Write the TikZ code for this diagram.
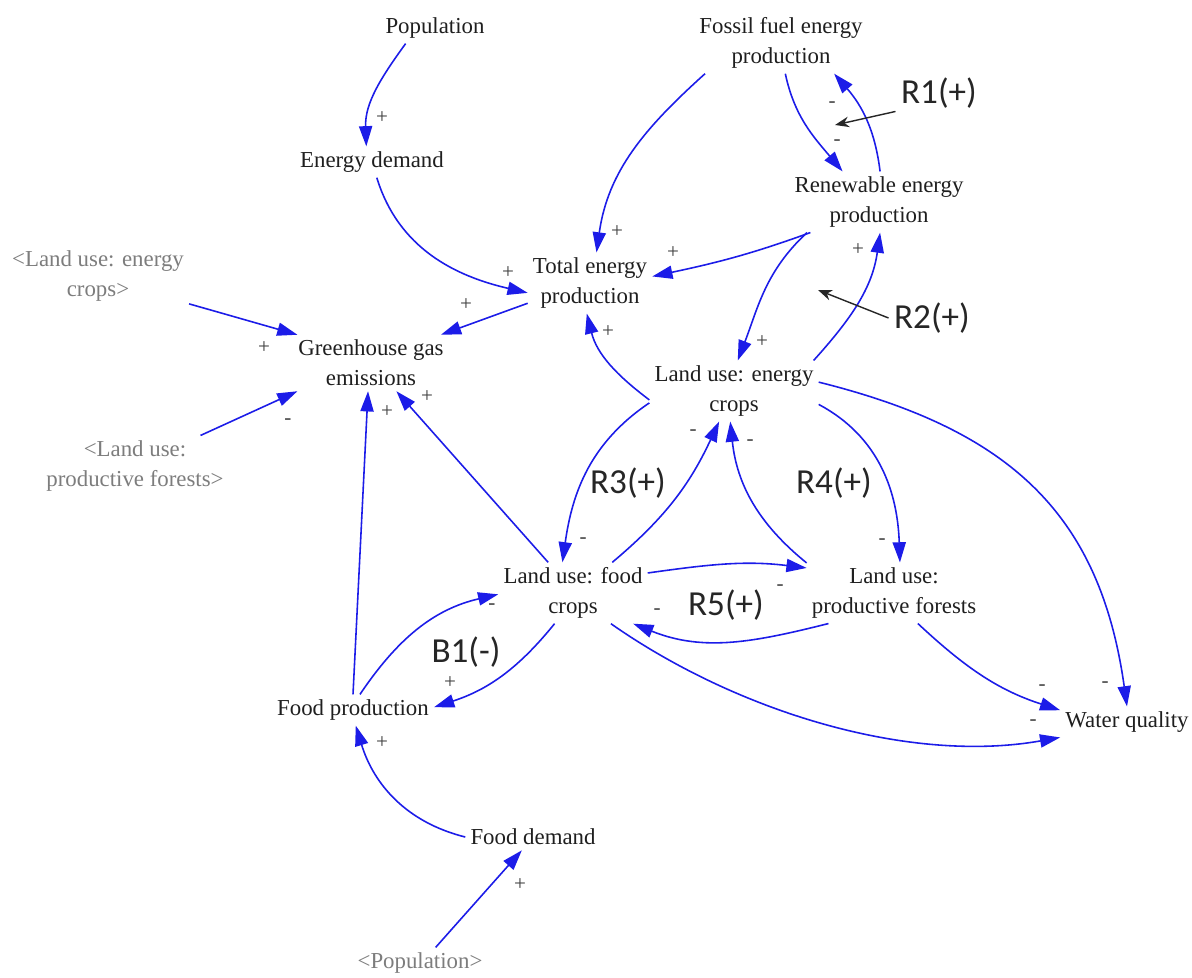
\documentclass[tikz,border=0pt]{standalone}
\usepackage{fontspec}
\setmainfont{Liberation Serif}
\newfontfamily\loopfont{Carlito}
\usetikzlibrary{arrows.meta}
\definecolor{linkblue}{RGB}{28,28,232}
\definecolor{shadowgray}{RGB}{125,125,125}
\tikzset{
  var/.style={font=\fontsize{13}{17}\selectfont, text=black!88, align=center, inner sep=2.8pt},
  shadowvar/.style={var, text=shadowgray},
  link/.style={draw=linkblue, line width=0.9pt, -{Triangle[length=11.5pt,width=7.5pt]}},
  sign/.style={font=\fontsize{12}{12}\selectfont, text=black!75, inner sep=0pt},
  looplabel/.style={font=\loopfont\fontsize{20}{22}\selectfont, text=black!85, inner sep=3pt},
  pointer/.style={draw=black!85, line width=0.8pt, -{Stealth[length=8pt,width=6pt]}},
}
\begin{document}
\begin{tikzpicture}[x=0.02cm, y=0.02cm]
  \fill[white] (0,0) rectangle (1192,-977);
  \useasboundingbox (0,0) rectangle (1192,-977);

  % variables
  \node[var] (pop)  at (435,-28)  {Population};
  \node[var] (ed)   at (372,-162) {Energy demand};
  \node[var] (tep)  at (590,-283) {Total energy\\production};
  \node[var] (ffp)  at (781,-43)  {Fossil fuel energy\\production};
  \node[var] (rep)  at (879,-202) {Renewable energy\\production};
  \node[var] (ghg)  at (371,-363) {Greenhouse gas\\emissions};
  \node[var] (lue)  at (734,-391) {Land use: energy\\crops};
  \node[var] (luf)  at (573,-593) {Land use: food\\crops};
  \node[var] (lupf) at (894,-593) {Land use:\\productive forests};
  \node[var] (fp)   at (353,-710) {Food production};
  \node[var] (fd)   at (533,-837) {Food demand};
  \node[var] (wq)   at (1127,-722) {Water quality};

  % shadow variables
  \node[shadowvar] (luep)  at (98,-276)  {<Land use: energy\\crops>};
  \node[shadowvar] (lupf2) at (135,-466) {<Land use:\\productive forests>};
  \node[shadowvar] (popS)  at (420,-963) {<Population>};

  % causal links
  \draw[link] (pop.208) to[out=234,in=92] (ed.110);
  \draw[link] (ed.287) to[out=287,in=167] (tep.189);
  \draw[link] (ffp.202) to[out=222,in=82] (tep.78);
  \draw[link] (rep.204) to[out=200,in=12] (tep.6);
  \draw[link] (ffp.278) to[out=282,in=130] (rep.140);
  \draw[link] (rep.88) to[out=97,in=311] (ffp.330);
  \draw[link] (rep.203) to[out=223,in=69] (lue.83);
  \draw[link] (lue.21) to[out=48,in=262] (rep.272);
  \draw[link] (tep.198) -- (ghg.22);
  \draw[link] (luep.343) -- (ghg.159);
  \draw[link] (lupf2.25) -- (ghg.201);
  \draw[link] (fp.90) -- (ghg.264);
  \draw[link] (luf.129) -- (ghg.312);
  \draw[link] (lue.186) to[out=143,in=284] (tep.264);
  \draw[link] (lue.188) to[out=214,in=82] (luf.109);
  \draw[link] (luf.38) to[out=40,in=245] (lue.244);
  \draw[link] (lupf.161) to[out=141,in=276] (lue.263);
  \draw[link] (lue.351) to[out=332,in=92] (lupf.79);
  \draw[link] (lue.6) to[out=346,in=98,looseness=1.12] (wq.90);
  \draw[link] (luf.15) to[out=8,in=173] (lupf.164);
  \draw[link] (lupf.205) to[out=194,in=338] (luf.333);
  \draw[link] (lupf.308) to[out=317,in=162] (wq.170);
  \draw[link] (luf.321) to[out=325,in=190,looseness=0.85] (wq.193);
  \draw[link] (fp.66) to[out=56,in=193] (luf.181);
  \draw[link] (luf.239) to[out=231,in=18] (fp.2);
  \draw[link] (fd.180) to[out=166,in=287] (fp.280);
  \draw[link] (popS.45) -- (fd.230);

  % link polarities
  \node[sign] (s1)  at (382,-118) {+};
  \node[sign] (s2)  at (508,-273) {+};
  \node[sign] (s3)  at (617,-232) {+};
  \node[sign] (s4)  at (673,-253) {+};
  \node[sign] (s5)  at (837,-143) {-};
  \node[sign] (s6)  at (832,-105) {-};
  \node[sign] (s7)  at (762,-342) {+};
  \node[sign] (s8)  at (858,-250) {+};
  \node[sign] (s9)  at (466,-305) {+};
  \node[sign] (s10) at (264,-348) {+};
  \node[sign] (s11) at (288,-422) {-};
  \node[sign] (s12) at (387,-412) {+};
  \node[sign] (s13) at (427,-397) {+};
  \node[sign] (s14) at (608,-332) {+};
  \node[sign] (s15) at (583,-541) {-};
  \node[sign] (s16) at (693,-433) {-};
  \node[sign] (s17) at (750,-443) {-};
  \node[sign] (s18) at (882,-542) {-};
  \node[sign] (s19) at (1105,-685) {-};
  \node[sign] (s20) at (780,-588) {-};
  \node[sign] (s21) at (657,-612) {-};
  \node[sign] (s22) at (1042,-688) {-};
  \node[sign] (s23) at (1033,-723) {-};
  \node[sign] (s24) at (492,-607) {-};
  \node[sign] (s25) at (450,-683) {+};
  \node[sign] (s26) at (382,-743) {+};
  \node[sign] (s27) at (520,-885) {+};

  % feedback loop labels
  \node[looplabel] (r1) at (939,-93)  {R1(+)};
  \node[looplabel] (r2) at (932,-318) {R2(+)};
  \node[looplabel] (r3) at (628,-483) {R3(+)};
  \node[looplabel] (r4) at (834,-483) {R4(+)};
  \node[looplabel] (r5) at (726,-605) {R5(+)};
  \node[looplabel] (b1) at (466,-652) {B1(-)};
  \coordinate (r1tip) at (835,-125);
  \coordinate (r2tip) at (818,-290);
  \draw[pointer] (r1.203) -- (r1tip);
  \draw[pointer] (r2.180) -- (r2tip);
\end{tikzpicture}
\end{document}
